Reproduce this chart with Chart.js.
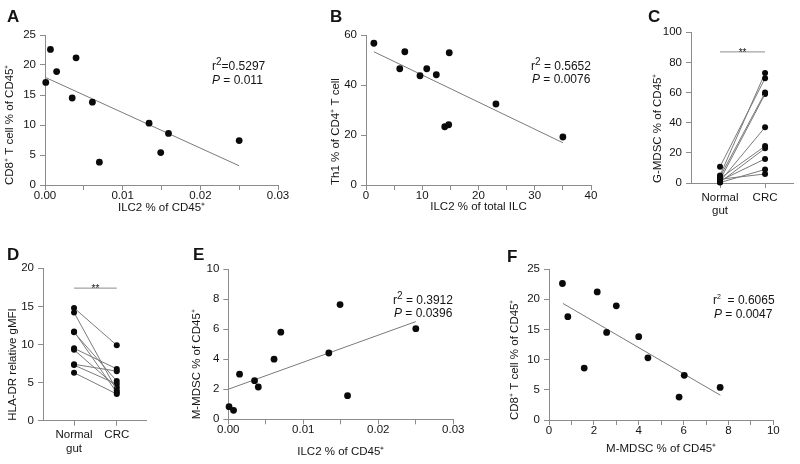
<!DOCTYPE html>
<html>
<head>
<meta charset="utf-8">
<script src="https://cdn.jsdelivr.net/npm/chart.js@4"></script>
<style>
  body { margin: 0; width: 800px; height: 464px; background: #fff; position: relative; overflow: hidden;
         font-family: "Liberation Sans", Arial, Helvetica, sans-serif; color: #141414; }
  canvas { position: absolute; }
  .letter { position: absolute; font-weight: bold; font-size: 17px; line-height: 17px; }
  .stat { position: absolute; font-size: 12px; line-height: 14px; white-space: nowrap; }
  .stat sup { font-size: 10px; line-height: 0; vertical-align: 5px; }
</style>
</head>
<body>
<canvas id="chartA"></canvas>
<canvas id="chartB"></canvas>
<canvas id="chartC"></canvas>
<canvas id="chartD"></canvas>
<canvas id="chartE"></canvas>
<canvas id="chartF"></canvas>

<div class="letter" style="left:7px;top:8px">A</div>
<div class="letter" style="left:330px;top:8px">B</div>
<div class="letter" style="left:648px;top:8px">C</div>
<div class="letter" style="left:7px;top:246px">D</div>
<div class="letter" style="left:193px;top:246px">E</div>
<div class="letter" style="left:507px;top:248px">F</div>

<div class="stat" style="left:212px;top:59px">r<sup>2</sup>=0.5297</div>
<div class="stat" style="left:212px;top:73px"><i>P</i> = 0.011</div>
<div class="stat" style="left:531px;top:59px">r<sup>2</sup> = 0.5652</div>
<div class="stat" style="left:532px;top:72px"><i>P</i> = 0.0076</div>
<div class="stat" style="left:393px;top:293px">r<sup>2</sup> = 0.3912</div>
<div class="stat" style="left:394px;top:306px"><i>P</i> = 0.0396</div>
<div class="stat" style="left:713px;top:293px">r<sup style="font-size:7px">2</sup>&nbsp; = 0.6065</div>
<div class="stat" style="left:714px;top:307px"><i>P</i> = 0.0047</div>

<script>
const TEXT = '#141414';
const AXIS = '#8c8c8c';
const LINE = '#7a7a7a';
const FONT = "'Liberation Sans', Arial, Helvetica, sans-serif";

// same 11 patients in A, E and F
const ilc2OfCd45  = [0.0001, 0.0007, 0.0015, 0.0035, 0.0040, 0.0061, 0.0070, 0.0134, 0.0149, 0.0159, 0.0250];
const cd8OfCd45   = [17.1, 22.6, 18.9, 14.5, 21.2, 13.8, 3.8, 10.3, 5.4, 8.6, 7.4];
const mmdscOfCd45 = [0.84, 0.60, 3.0, 2.57, 2.15, 4.0, 5.8, 4.41, 7.63, 1.57, 6.03];

// B
const ilc2OfTotalIlc = [1.4, 6.0, 6.9, 9.6, 10.8, 12.5, 14.8, 14.0, 14.7, 23.1, 35.0];
const th1OfCd4       = [56.7, 46.5, 53.3, 43.7, 46.5, 44.1, 52.9, 23.3, 24.1, 32.4, 19.2];

// regression line ends
const fitAx = [0.0001, 0.025], fitAy = [17.9, 3.2];
const fitBx = [1.4, 35.0],     fitBy = [53.3, 16.9];
const fitEx = [0.0, 0.025],    fitEy = [2.0, 6.5];
const fitFx = [0.62, 7.64],    fitFy = [19.3, 4.1];

// paired panels C and D
const groupLabels = [['Normal', 'gut'], 'CRC'];
const gmdscNormal = [10.8, 5.0, 4.0, 2.0, 1.0, 3.0, 0.5, 1.5, 0.3, 2.5];
const gmdscCrc    = [69.5, 73.0, 60.0, 59.0, 37.0, 24.5, 23.0, 16.0, 9.0, 6.0];
const hladrNormal = [14.8, 14.2, 11.7, 11.6, 9.5, 9.3, 7.4, 7.3, 6.3];
const hladrCrc    = [9.9, 4.0, 3.7, 5.2, 6.8, 4.4, 6.5, 4.8, 3.5];
const sigC = 87, sigD = 17.4;

function pts(xs, ys) {
  return xs.map((x, i) => ({ x: x, y: ys[i] }));
}

const starsPlugin = {
  id: 'stars',
  afterDatasetsDraw(chart, args, opts) {
    if (opts.y == null) return;
    const ctx = chart.ctx, xs = chart.scales.x, ys = chart.scales.y;
    ctx.save();
    ctx.font = '10px ' + FONT;
    ctx.fillStyle = TEXT;
    ctx.textAlign = 'center';
    ctx.textBaseline = 'alphabetic';
    ctx.fillText('**', xs.getPixelForValue(0.5), ys.getPixelForValue(opts.y) + 4);
    ctx.restore();
  }
};

function axis(o) {
  return {
    type: 'linear',
    min: o.min,
    max: o.max,
    afterBuildTicks: o.ticksAt ? (s) => { s.ticks = o.ticksAt.map(v => ({ value: v })); } : undefined,
    afterFit: (s) => {
      if (o.horizontal) s.height = o.size; else s.width = o.size;
      s.paddingLeft = s.paddingRight = s.paddingTop = s.paddingBottom = 0;
    },
    ticks: {
      stepSize: o.step,
      autoSkip: false,
      maxRotation: 0,
      color: TEXT,
      padding: o.pad,
      font: { family: FONT, size: 11.5, lineHeight: o.lh || 1.0 },
      callback: o.label
    },
    grid: { display: true, drawOnChartArea: false, drawTicks: true, tickLength: 5, color: AXIS, tickColor: AXIS },
    border: { display: true, color: AXIS, width: 1 },
    title: o.title ? {
      display: true, text: o.title, color: TEXT, padding: 0,
      align: o.horizontal ? 'center' : 'start',
      font: { family: FONT, size: 11.5, lineHeight: 1.15 }
    } : { display: false }
  };
}

// plot = chart area in page pixels, box = canvas in page pixels
function panel(id, plot, box, datasets, xOpt, yOpt, sig) {
  const el = document.getElementById(id);
  el.width = box[2] - box[0];
  el.height = box[3] - box[1];
  el.style.left = box[0] + 'px';
  el.style.top = box[1] + 'px';
  xOpt.horizontal = true;
  xOpt.size = box[3] - plot[3];
  yOpt.size = plot[0] - box[0];
  return new Chart(el, {
    type: 'scatter',
    data: { datasets: datasets },
    options: {
      responsive: false,
      animation: false,
      layout: { padding: { left: 0, bottom: 0, top: plot[1] - box[1], right: box[2] - plot[2] } },
      plugins: { legend: { display: false }, tooltip: { enabled: false }, stars: { y: sig } },
      scales: { x: axis(xOpt), y: axis(yOpt) }
    },
    plugins: [starsPlugin]
  });
}

function dots(xs, ys) {
  return { data: pts(xs, ys), pointRadius: 3.4, pointBackgroundColor: '#0a0a0a', pointBorderWidth: 0, clip: false, order: 1 };
}
function fit(xs, ys) {
  return { data: pts(xs, ys), showLine: true, borderColor: LINE, borderWidth: 1, pointRadius: 0, clip: false, order: 2 };
}
function pairs(normal, crc, sig) {
  const ds = normal.map((n, i) => ({
    data: [{ x: 0, y: n }, { x: 1, y: crc[i] }],
    showLine: true, borderColor: LINE, borderWidth: 1,
    pointRadius: 3, pointBackgroundColor: '#0a0a0a', pointBorderWidth: 0, clip: false
  }));
  ds.push({ data: [{ x: 0, y: sig }, { x: 1, y: sig }], showLine: true, borderColor: AXIS, borderWidth: 1, pointRadius: 0, clip: false });
  return ds;
}

const every = (k, digits) => (v) => Math.abs(v / k - Math.round(v / k)) < 1e-6 ? v.toFixed(digits) : '';
const groupLabel = (v) => groupLabels[v];

panel('chartA', [45, 35, 278, 185], [3, 25, 292, 214],
  [dots(ilc2OfCd45, cd8OfCd45), fit(fitAx, fitAy)],
  { min: 0, max: 0.03, step: 0.005, pad: 0, label: every(0.01, 2), title: 'ILC2 % of CD45⁺' },
  { min: 0, max: 25, step: 5, pad: 4, title: 'CD8⁺ T cell % of CD45⁺' });

panel('chartB', [366, 35, 591, 185], [329, 25, 605, 213],
  [dots(ilc2OfTotalIlc, th1OfCd4), fit(fitBx, fitBy)],
  { min: 0, max: 40, step: 5, pad: 0, label: every(10, 0), title: 'ILC2 % of total ILC' },
  { min: 0, max: 60, step: 20, pad: 4, title: 'Th1 % of CD4⁺ T cell' });

panel('chartC', [691, 32.3, 793, 183], [651, 22, 800, 224],
  pairs(gmdscNormal, gmdscCrc, sigC),
  { min: -0.644, max: 1.62, ticksAt: [0, 1], pad: 4, lh: 1.1, label: groupLabel },
  { min: 0, max: 100, step: 20, pad: 4, title: 'G-MDSC % of CD45⁺' }, sigC);

panel('chartD', [43, 268.3, 146.7, 420.7], [6, 258, 170, 462],
  pairs(hladrNormal, hladrCrc, sigD),
  { min: -0.726, max: 1.70, ticksAt: [0, 1], pad: 2, lh: 1.2, label: groupLabel },
  { min: 0, max: 20, step: 5, pad: 4, title: 'HLA-DR relative gMFI' }, sigD);

panel('chartE', [228.3, 269, 453.3, 419.3], [190, 259, 468, 458],
  [dots(ilc2OfCd45, mmdscOfCd45), fit(fitEx, fitEy)],
  { min: 0, max: 0.03, step: 0.005, pad: 0, label: every(0.01, 2), title: 'ILC2 % of CD45⁺' },
  { min: 0, max: 10, step: 2, pad: 4, title: 'M-MDSC % of CD45⁺' });

panel('chartF', [549, 269, 773.3, 420], [508, 259, 788, 455],
  [dots(mmdscOfCd45, cd8OfCd45), fit(fitFx, fitFy)],
  { min: 0, max: 10, step: 1, pad: 0, label: every(2, 0), title: 'M-MDSC % of CD45⁺' },
  { min: 0, max: 25, step: 5, pad: 4, title: 'CD8⁺ T cell % of CD45⁺' });
</script>
</body>
</html>
